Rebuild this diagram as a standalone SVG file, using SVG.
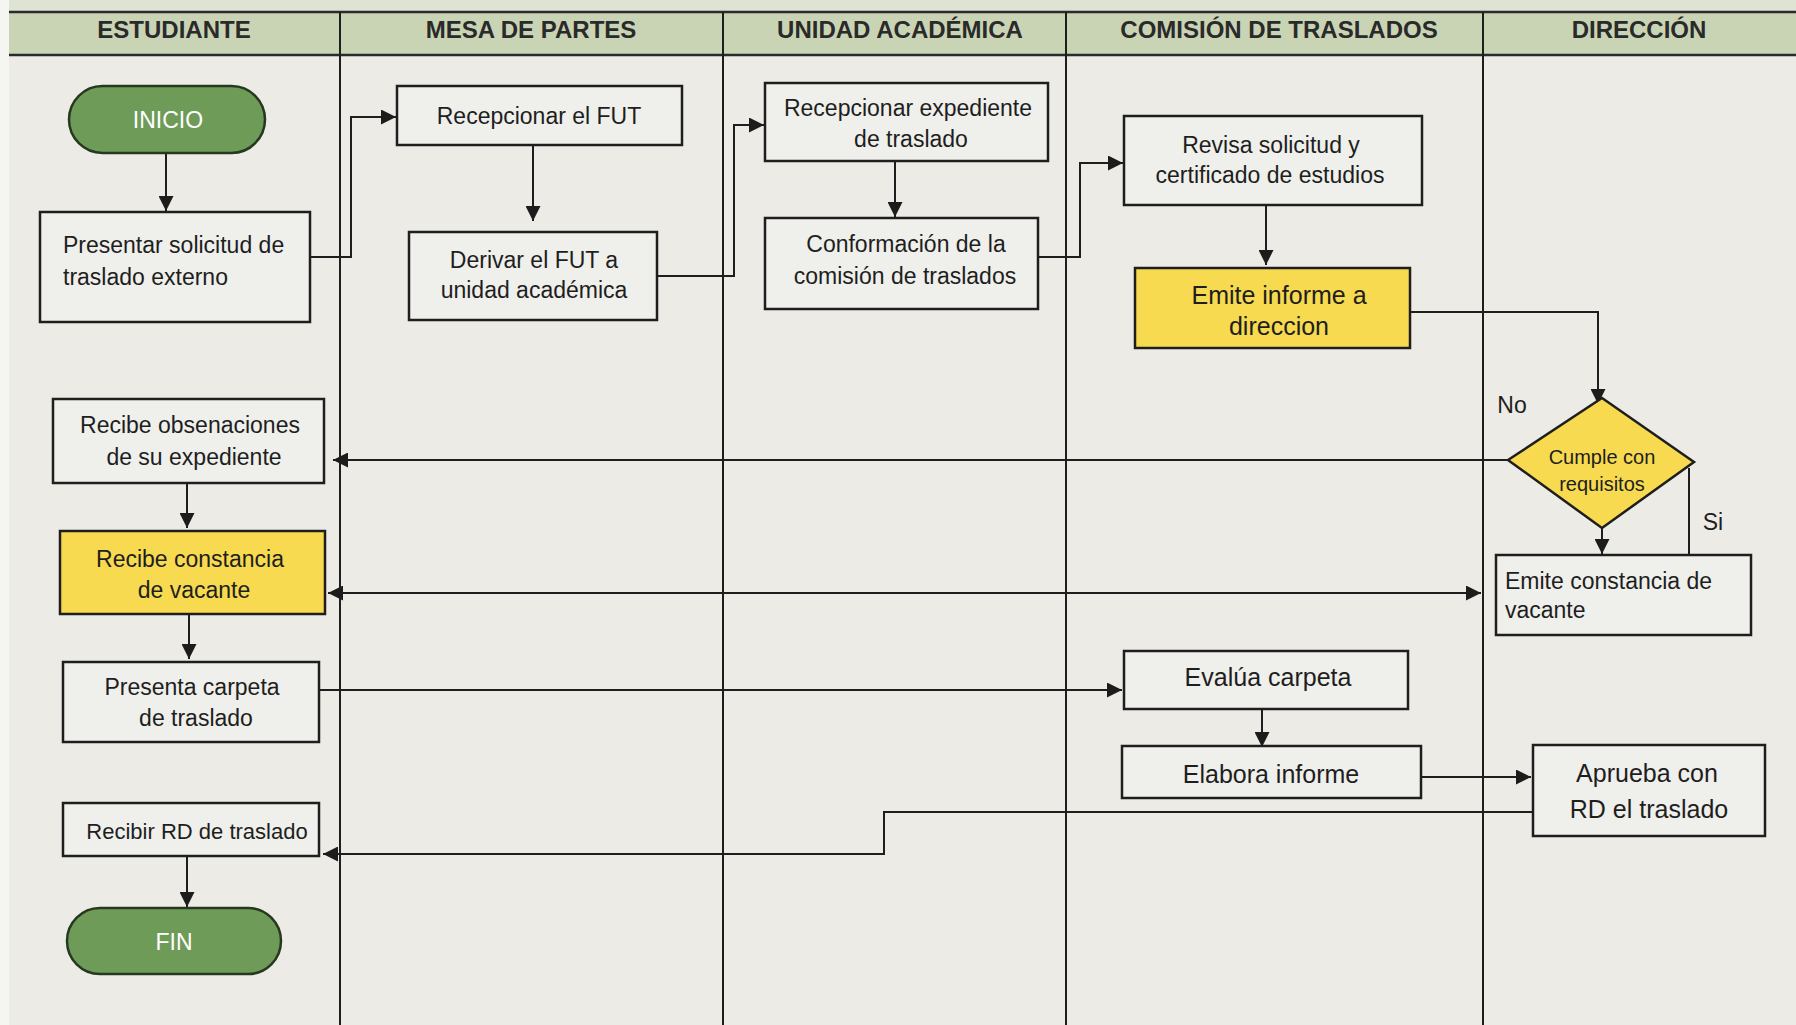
<svg xmlns="http://www.w3.org/2000/svg" width="1796" height="1025" viewBox="0 0 1796 1025">
<defs>
<marker id="ah" viewBox="0 0 10 10" refX="10" refY="5" markerWidth="16" markerHeight="15" markerUnits="userSpaceOnUse" orient="auto-start-reverse">
<path d="M0,0 L10,5 L0,10 z" fill="#1c1c1c"/>
</marker>
<style>
.box{fill:#efefeb;stroke:#1e1e1e;stroke-width:2.5}
.yel{fill:#f7da4f;stroke:#1e1e1e;stroke-width:2.5}
.term{fill:#6f9b58;stroke:#263820;stroke-width:2.5}
.t{font-family:"Liberation Sans",Arial,sans-serif;font-size:23px;fill:#1e1e1e;text-anchor:middle;dominant-baseline:central}
.tl{text-anchor:start}
.big{font-size:25px}
.sm{font-size:22px}
.dm{font-size:20px}
.tw{fill:#ffffff;font-size:23px}
.hd{font-family:"Liberation Sans",Arial,sans-serif;font-size:24px;font-weight:bold;fill:#2a2a2a;text-anchor:middle;dominant-baseline:central}
.c{fill:none;stroke:#1e1e1e;stroke-width:2}
.lane{stroke:#1e1e1e;stroke-width:2}
</style>
</defs>
<rect x="0" y="0" width="1796" height="1025" fill="#f5f5f2"/>
<rect x="9" y="0" width="1787" height="12" fill="#dfe3d3"/>
<rect x="9" y="55" width="1787" height="970" fill="#ecebe6"/>
<g id="header">
<rect x="9" y="12" width="1787" height="43" fill="#c9d4b4"/>
<line x1="9" y1="12" x2="1796" y2="12" stroke="#2a2a2a" stroke-width="2.5"/>
<line x1="9" y1="55" x2="1796" y2="55" stroke="#2a2a2a" stroke-width="2.5"/>
<text class="hd" x="174" y="29">ESTUDIANTE</text>
<text class="hd" x="531" y="29">MESA DE PARTES</text>
<text class="hd" x="900" y="29">UNIDAD ACADÉMICA</text>
<text class="hd" x="1279" y="29">COMISIÓN DE TRASLADOS</text>
<text class="hd" x="1639" y="29">DIRECCIÓN</text>
</g>
<g id="lanes">
<line class="lane" x1="340" y1="12" x2="340" y2="1025"/>
<line class="lane" x1="723" y1="12" x2="723" y2="1025"/>
<line class="lane" x1="1066" y1="12" x2="1066" y2="1025"/>
<line class="lane" x1="1483" y1="12" x2="1483" y2="1025"/>
</g>
<g id="connectors">
<path class="c" d="M166,153 V211" marker-end="url(#ah)"/>
<path class="c" d="M310,257 H351 V117 H396" marker-end="url(#ah)"/>
<path class="c" d="M533,146 V221" marker-end="url(#ah)"/>
<path class="c" d="M657,276 H734 V125 H764" marker-end="url(#ah)"/>
<path class="c" d="M895,162 V217" marker-end="url(#ah)"/>
<path class="c" d="M1038,257 H1080 V163 H1123" marker-end="url(#ah)"/>
<path class="c" d="M1266,205 V265" marker-end="url(#ah)"/>
<path class="c" d="M1410,312 H1598 V404" marker-end="url(#ah)"/>
<path class="c" d="M1508,460 H333" marker-end="url(#ah)"/>
<path class="c" d="M1689,468 V555"/>
<path class="c" d="M1602,528 V554" marker-end="url(#ah)"/>
<path class="c" d="M187,483 V528" marker-end="url(#ah)"/>
<path class="c" d="M328,593 H1481" marker-start="url(#ah)" marker-end="url(#ah)"/>
<path class="c" d="M189,614 V659" marker-end="url(#ah)"/>
<path class="c" d="M319,690 H1122" marker-end="url(#ah)"/>
<path class="c" d="M1262,709 V747" marker-end="url(#ah)"/>
<path class="c" d="M1421,777 H1531" marker-end="url(#ah)"/>
<path class="c" d="M1533,812 H884 V854 H323" marker-end="url(#ah)"/>
<path class="c" d="M187,856 V907" marker-end="url(#ah)"/>
</g>
<g id="inicio">
<rect class="term" x="69" y="86" width="196" height="67" rx="33.5"/>
<text class="t tw" x="168" y="120">INICIO</text>
</g>
<g id="presentar">
<rect class="box" x="40" y="212" width="270" height="110"/>
<text class="t tl" x="63" y="245">Presentar solicitud de</text>
<text class="t tl" x="63" y="277">traslado externo</text>
</g>
<g id="recepcionar-fut">
<rect class="box" x="397" y="86" width="285" height="59"/>
<text class="t" x="539" y="116">Recepcionar el FUT</text>
</g>
<g id="derivar">
<rect class="box" x="409" y="232" width="248" height="88"/>
<text class="t" x="534" y="260">Derivar el FUT a</text>
<text class="t" x="534" y="290">unidad académica</text>
</g>
<g id="recepcionar-exp">
<rect class="box" x="765" y="83" width="283" height="78"/>
<text class="t" x="908" y="108">Recepcionar expediente</text>
<text class="t" x="911" y="139">de traslado</text>
</g>
<g id="conformacion">
<rect class="box" x="765" y="218" width="273" height="91"/>
<text class="t" x="906" y="244">Conformación de la</text>
<text class="t" x="905" y="276">comisión de traslados</text>
</g>
<g id="revisa">
<rect class="box" x="1124" y="116" width="298" height="89"/>
<text class="t" x="1271" y="145">Revisa solicitud y</text>
<text class="t" x="1270" y="175">certificado de estudios</text>
</g>
<g id="emite-informe">
<rect class="yel" x="1135" y="268" width="275" height="80"/>
<text class="t big" x="1279" y="295">Emite informe a</text>
<text class="t big" x="1279" y="326">direccion</text>
</g>
<g id="cumple">
<polygon class="yel" points="1602,398 1694,462 1602,528 1508,460"/>
<text class="t dm" x="1602" y="457">Cumple con</text>
<text class="t dm" x="1602" y="484">requisitos</text>
</g>
<g id="labels">
<text class="t" x="1512" y="405">No</text>
<text class="t" x="1713" y="522">Si</text>
</g>
<g id="emite-constancia">
<rect class="box" x="1496" y="555" width="255" height="80"/>
<text class="t tl" x="1505" y="581">Emite constancia de</text>
<text class="t tl" x="1505" y="610">vacante</text>
</g>
<g id="recibe-obs">
<rect class="box" x="53" y="399" width="271" height="84"/>
<text class="t" x="190" y="425">Recibe obsenaciones</text>
<text class="t" x="194" y="457">de su expediente</text>
</g>
<g id="recibe-constancia">
<rect class="yel" x="60" y="531" width="265" height="83"/>
<text class="t" x="190" y="559">Recibe constancia</text>
<text class="t" x="194" y="590">de vacante</text>
</g>
<g id="presenta-carpeta">
<rect class="box" x="63" y="662" width="256" height="80"/>
<text class="t" x="192" y="687">Presenta carpeta</text>
<text class="t" x="196" y="718">de traslado</text>
</g>
<g id="recibir-rd">
<rect class="box" x="63" y="803" width="256" height="53"/>
<text class="t sm" x="197" y="831">Recibir RD de traslado</text>
</g>
<g id="fin">
<rect class="term" x="67" y="908" width="214" height="66" rx="33"/>
<text class="t tw" x="174" y="942">FIN</text>
</g>
<g id="evalua">
<rect class="box" x="1124" y="651" width="284" height="58"/>
<text class="t big" x="1268" y="677">Evalúa carpeta</text>
</g>
<g id="elabora">
<rect class="box" x="1122" y="746" width="299" height="52"/>
<text class="t big" x="1271" y="774">Elabora informe</text>
</g>
<g id="aprueba">
<rect class="box" x="1533" y="745" width="232" height="91"/>
<text class="t big" x="1647" y="773">Aprueba con</text>
<text class="t big" x="1649" y="809">RD el traslado</text>
</g>
</svg>
